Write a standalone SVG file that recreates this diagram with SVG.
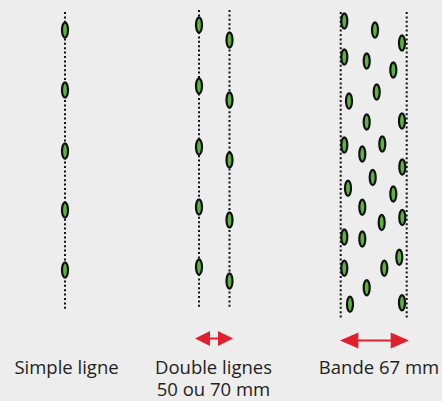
<svg xmlns="http://www.w3.org/2000/svg" width="442" height="401" viewBox="0 0 442 401">
  <style>
    .row { stroke: #111; stroke-width: 2; stroke-dasharray: 2 2.4; fill: none; }
    .seed { fill: #5cb43e; stroke: #111; stroke-width: 2.2; }
    .lbl { font-family: "Open Sans", "Liberation Sans", sans-serif; font-size: 18.5px; fill: #231f20; text-anchor: middle; }
    .arr { stroke: #e11f2f; stroke-width: 2; fill: none; }
    .head { fill: #e11f2f; }
  </style>
  <defs>
    <ellipse id="s" class="seed" cx="0" cy="0" rx="3" ry="7.6"/>
  </defs>
  <rect width="442" height="401" fill="#ededed"/>

  <g id="simple-ligne">
    <line class="row" x1="65" y1="12" x2="65" y2="311"/>
    <use href="#s" x="65" y="30"/>
    <use href="#s" x="65" y="90"/>
    <use href="#s" x="65" y="151"/>
    <use href="#s" x="65" y="210"/>
    <use href="#s" x="65" y="270"/>
    <text class="lbl" x="66.5" y="373.5">Simple ligne</text>
  </g>

  <g id="double-lignes">
    <line class="row" x1="199" y1="10" x2="199" y2="308"/>
    <line class="row" x1="229.5" y1="10" x2="229.5" y2="308"/>
    <use href="#s" x="199" y="25"/>
    <use href="#s" x="199" y="86"/>
    <use href="#s" x="199" y="147"/>
    <use href="#s" x="199" y="207"/>
    <use href="#s" x="199" y="267"/>
    <use href="#s" x="229.5" y="40"/>
    <use href="#s" x="229.5" y="100"/>
    <use href="#s" x="229.5" y="160"/>
    <use href="#s" x="229.5" y="220"/>
    <use href="#s" x="229.5" y="281"/>
    <text class="lbl" x="213.5" y="373.5">Double lignes</text>
    <text class="lbl" x="213.5" y="396">50 ou 70 mm</text>
  </g>

  <g id="bande">
    <line class="row" x1="340.7" y1="12" x2="340.7" y2="320"/>
    <line class="row" x1="406.7" y1="12" x2="406.7" y2="320"/>
    <use href="#s" x="344.3" y="21"/>
    <use href="#s" x="375" y="30"/>
    <use href="#s" x="402" y="43"/>
    <use href="#s" x="344.3" y="57"/>
    <use href="#s" x="366.7" y="61"/>
    <use href="#s" x="393.3" y="70"/>
    <use href="#s" x="376.7" y="92"/>
    <use href="#s" x="349" y="101"/>
    <use href="#s" x="366.7" y="122"/>
    <use href="#s" x="402" y="121"/>
    <use href="#s" x="344.3" y="145"/>
    <use href="#s" x="362.3" y="154"/>
    <use href="#s" x="382.3" y="144"/>
    <use href="#s" x="402.3" y="167"/>
    <use href="#s" x="372.7" y="177.5"/>
    <use href="#s" x="348" y="188.3"/>
    <use href="#s" x="393.3" y="194"/>
    <use href="#s" x="362.3" y="207.3"/>
    <use href="#s" x="381.7" y="222.5"/>
    <use href="#s" x="402.3" y="217.5"/>
    <use href="#s" x="344.3" y="237"/>
    <use href="#s" x="362.3" y="239"/>
    <use href="#s" x="399.3" y="257.3"/>
    <use href="#s" x="344.3" y="268.3"/>
    <use href="#s" x="384.3" y="268.3"/>
    <use href="#s" x="366.7" y="287.7"/>
    <use href="#s" x="350" y="304.3"/>
    <use href="#s" x="402" y="302.7"/>
    <text class="lbl" x="379" y="373.5">Bande 67 mm</text>
  </g>

  <g id="connectors">
    <g id="arrow-double">
      <line class="arr" x1="209" y1="338.5" x2="219" y2="338.5"/>
      <polygon class="head" points="195,338.5 210,331 210,346"/>
      <polygon class="head" points="233,338.5 218,331 218,346"/>
    </g>
    <g id="arrow-bande">
      <line class="arr" x1="357" y1="340.5" x2="392" y2="340.5"/>
      <polygon class="head" points="340,340.5 358.3,332.5 358.3,348.5"/>
      <polygon class="head" points="409,340.5 390.7,332.5 390.7,348.5"/>
    </g>
  </g>
</svg>
